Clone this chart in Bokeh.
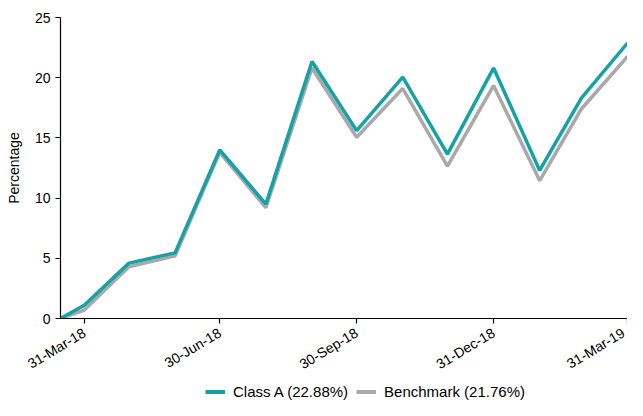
import math
from datetime import datetime
from bokeh.plotting import figure
from bokeh.layouts import column
from bokeh.models import ColumnDataSource, FixedTicker, DatetimeTickFormatter, Range1d, Legend, LegendItem
from bokeh.embed import file_html
from bokeh.resources import INLINE

dates = ["2018-03-15", "2018-03-31", "2018-04-30", "2018-05-31", "2018-06-30", "2018-07-31",
         "2018-08-31", "2018-09-30", "2018-10-31", "2018-11-30", "2018-12-31", "2019-01-31",
         "2019-02-28", "2019-03-31"]
class_a = [0.0, 1.1, 4.6, 5.45, 14.0, 9.5, 21.35, 15.6, 20.05, 13.65, 20.8, 12.3, 18.3, 22.88]
benchmark = [0.0, 0.7, 4.3, 5.2, 13.8, 9.2, 20.8, 15.05, 19.1, 12.65, 19.35, 11.45, 17.4, 21.76]
tick_dates = ["2018-03-31", "2018-06-30", "2018-09-30", "2018-12-31", "2019-03-31"]
y_ticks = [0, 5, 10, 15, 20, 25]
labels = ["Class A (22.88%)", "Benchmark (21.76%)"]

xs = [datetime.strptime(d, "%Y-%m-%d") for d in dates]
src = ColumnDataSource(dict(x=xs, a=class_a, b=benchmark))

def ms(d):
    return (datetime.strptime(d, "%Y-%m-%d") - datetime(1970, 1, 1)).total_seconds() * 1000

FONT = "Liberation Sans"
TEAL = "#14A2A7"
GRAY = "#A9A9A9"

p = figure(width=627, height=381, x_axis_type="datetime", output_backend="svg",
           toolbar_location=None, x_range=Range1d(xs[0], xs[-1]), y_range=Range1d(0, 25),
           min_border_left=60, min_border_right=0, min_border_top=17, min_border_bottom=63)
p.outline_line_color = None
p.xgrid.visible = False
p.ygrid.visible = False

p.line("x", "b", source=src, line_color=GRAY, line_width=3.5)
p.line("x", "a", source=src, line_color=TEAL, line_width=3.5)

p.xaxis.ticker = FixedTicker(ticks=[ms(d) for d in tick_dates])
fmt = "%d-%b-%y"
p.xaxis.formatter = DatetimeTickFormatter(milliseconds=fmt, seconds=fmt, minsec=fmt, minutes=fmt,
                                          hourmin=fmt, hours=fmt, days=fmt, months=fmt, years=fmt)
p.xaxis.major_label_orientation = math.radians(31)
p.yaxis.ticker = FixedTicker(ticks=y_ticks)
p.yaxis.axis_label = "Percentage"

for ax in (p.xaxis[0], p.yaxis[0]):
    ax.axis_line_color = "black"
    ax.axis_line_width = 1.2
    ax.major_tick_line_color = "black"
    ax.major_tick_line_width = 1.2
    ax.major_tick_in = 0
    ax.major_tick_out = 5
    ax.minor_tick_line_color = None
    ax.major_label_text_font = FONT
    ax.major_label_text_font_size = "14px"
    ax.major_label_text_color = "black"
    ax.axis_label_text_font = FONT
    ax.axis_label_text_font_size = "14px"
    ax.axis_label_text_font_style = "normal"
    ax.axis_label_text_color = "black"
p.yaxis.axis_label_standoff = 10
p.yaxis.major_label_standoff = 5
p.xaxis.major_label_standoff = 8

# legend strip below the chart (lines drawn outside its visible range, only legend shows)
lg = figure(width=627, height=19, x_axis_type="datetime", output_backend="svg",
            toolbar_location=None, x_range=p.x_range, y_range=Range1d(100, 101),
            min_border=0)
lg.axis.visible = False
lg.grid.visible = False
lg.outline_line_color = None
la = lg.line("x", "a", source=src, line_color=TEAL, line_width=4)
lb = lg.line("x", "b", source=src, line_color=GRAY, line_width=4)
legend = Legend(items=[LegendItem(label=labels[0], renderers=[la]),
                       LegendItem(label=labels[1], renderers=[lb])],
                orientation="horizontal", location=(145, 0),
                label_text_font=FONT, label_text_font_size="15px", label_text_color="black",
                glyph_width=20, glyph_height=15, spacing=8, label_standoff=8,
                border_line_color=None, background_fill_alpha=0, margin=0, padding=0)
lg.add_layout(legend, "center")

layout = column(p, lg, spacing=0)
open("out.html", "w").write(file_html(layout, INLINE))
